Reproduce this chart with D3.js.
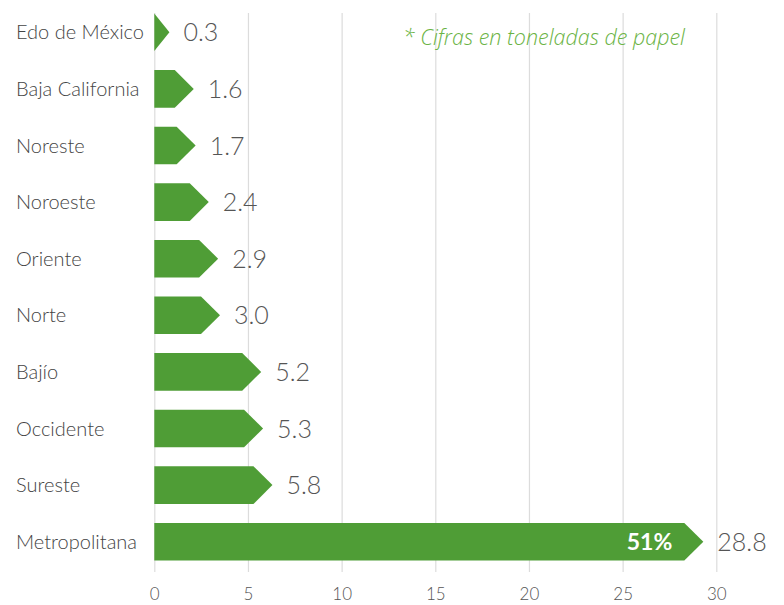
<!DOCTYPE html>
<html>
<head>
<meta charset="utf-8">
<script src="https://cdn.jsdelivr.net/npm/d3@7"></script>
<style>
  html, body { margin: 0; padding: 0; background: #ffffff; }
  svg { display: block; }
</style>
</head>
<body>
<svg id="chart" width="784" height="605"></svg>
<script>
// Regions, ordered top to bottom
const regions = ["Edo de México", "Baja California", "Noreste", "Noroeste", "Oriente",
                 "Norte", "Bajío", "Occidente", "Sureste", "Metropolitana"];
// Paper tonnage per region
const tons = [0.3, 1.6, 1.7, 2.4, 2.9, 3.0, 5.2, 5.3, 5.8, 28.8];
// Value labels as printed
const valueLabels = ["0.3", "1.6", "1.7", "2.4", "2.9", "3.0", "5.2", "5.3", "5.8", "28.8"];
// X axis ticks
const xTicks = [0, 5, 10, 15, 20, 25, 30];
const shareLabel = "51%";
const note = "* Cifras en toneladas de papel";

const svg = d3.select("#chart");
const green = "#4f9d36";
const font = "Lato, 'Open Sans', sans-serif";

const x = d3.scaleLinear().domain([0, 30]).range([154.3, 716.3]);
const y = d3.scaleBand().domain(regions).range([4, 570]).paddingInner(0.335).paddingOuter(0.1675);

// Vertical gridlines with small tick stubs below the bars
const axis = d3.axisBottom(x).tickValues(xTicks).tickSize(559).tickPadding(16).tickFormat(d3.format("d"));
const gAxis = svg.append("g").attr("transform", "translate(0,13)").call(axis);
gAxis.select(".domain").remove();
gAxis.selectAll(".tick line").attr("stroke", "#dcdcdc").attr("stroke-width", 1.2);
gAxis.selectAll(".tick text")
  .attr("fill", "#555").attr("font-family", font).attr("font-size", 17).attr("font-weight", 300);

// Arrow-shaped bars: the arrowhead is centred on the value
const head = 19;
const bw = y.bandwidth();
const arrowPath = (v, r) => {
  const x0 = x(0);
  const tip = x(v) + head / 2;
  const body = Math.max(x0, tip - head);
  const top = y(r), bot = y(r) + bw, mid = y(r) + bw / 2;
  return `M${x0},${top}L${body},${top}L${tip},${mid}L${body},${bot}L${x0},${bot}Z`;
};
const tipX = v => x(v) + head / 2;

const rows = regions.map((r, i) => ({ region: r, value: tons[i], label: valueLabels[i] }));

svg.append("g").selectAll("path").data(rows).join("path")
  .attr("d", d => arrowPath(d.value, d.region))
  .attr("fill", green);

// Region names
svg.append("g").selectAll("text").data(rows).join("text")
  .attr("x", 16)
  .attr("y", d => y(d.region) + bw / 2)
  .attr("dy", "0.35em")
  .attr("font-family", font).attr("font-size", 20).attr("font-weight", 300).attr("fill", "#444")
  .text(d => d.region);

// Value labels after each arrow
svg.append("g").selectAll("text").data(rows).join("text")
  .attr("x", d => tipX(d.value) + 14)
  .attr("y", d => y(d.region) + bw / 2)
  .attr("dy", "0.36em")
  .attr("font-family", font).attr("font-size", 25).attr("font-weight", 300).attr("fill", "#555")
  .text(d => d.label);

// Share of the largest region, inside its bar
const big = rows[rows.length - 1];
svg.append("text")
  .attr("x", tipX(big.value) - head - 12)
  .attr("y", y(big.region) + bw / 2)
  .attr("dy", "0.36em")
  .attr("text-anchor", "end")
  .attr("font-family", font).attr("font-size", 23).attr("font-weight", 700).attr("fill", "#ffffff")
  .text(shareLabel);

// Unit note
svg.append("text")
  .attr("x", 403).attr("y", 37).attr("dy", "0.35em")
  .attr("font-family", "'Open Sans', sans-serif").attr("font-size", 21.5).attr("font-style", "italic").attr("font-weight", 300)
  .attr("fill", "#6ab344")
  .text(note);
</script>
</body>
</html>
